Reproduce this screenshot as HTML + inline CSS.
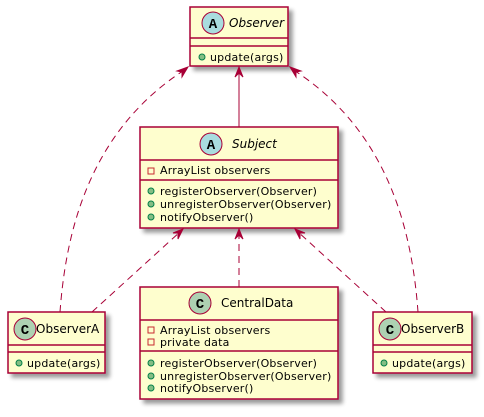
<!DOCTYPE html>
<html><head><style>
body{margin:0;background:#fff}
svg text{font-family:"DejaVu Sans","Liberation Sans",sans-serif;font-size:11px;fill:#000}
</style></head><body>
<svg width="484" height="412" viewBox="0 0 484 412" xmlns="http://www.w3.org/2000/svg">
<defs>
<filter id="sh" x="-10%" y="-10%" width="130%" height="130%"><feGaussianBlur in="SourceAlpha" stdDeviation="2"/><feOffset dx="4" dy="4"/><feComponentTransfer><feFuncA type="linear" slope="0.4"/></feComponentTransfer><feMerge><feMergeNode/><feMergeNode in="SourceGraphic"/></feMerge></filter>
</defs>
<g fill="#FEFECE" stroke="#A80036" stroke-width="1.5" filter="url(#sh)">
<rect x="190" y="7" width="98" height="59"/>
<rect x="140" y="127" width="198" height="101"/>
<rect x="8" y="312" width="97" height="61"/>
<rect x="140" y="287" width="198" height="112"/>
<rect x="373" y="312" width="99" height="61"/>
</g>
<g stroke="#A80036" stroke-width="1.5">
<line x1="190" y1="38" x2="288" y2="38"/><line x1="190" y1="46" x2="288" y2="46"/>
<line x1="140" y1="160" x2="338" y2="160"/><line x1="140" y1="180" x2="338" y2="180"/>
<line x1="8" y1="345" x2="105" y2="345"/><line x1="8" y1="352" x2="105" y2="352"/>
<line x1="140" y1="320" x2="338" y2="320"/><line x1="140" y1="351" x2="338" y2="351"/>
<line x1="373" y1="345" x2="472" y2="345"/><line x1="373" y1="352" x2="472" y2="352"/>
</g>
<g stroke="#A80036" fill="none" stroke-width="1">
<line x1="239" y1="68" x2="239" y2="127"/>
<g stroke-dasharray="7,5">
<path d="M60,312 C66,230 90,130 186,69"/>
<path d="M92,312 L181,231"/>
<path d="M239,287 L239,231"/>
<path d="M386,312 L297,231"/>
<path d="M418,312 C412,230 388,130 292,69"/>
</g>
</g>
<g fill="#A80036" stroke="#A80036">
<polygon points="239,67 235,77 239,73 243,77"/>
<polygon points="188,67 177,71 182,72 182,77"/>
<polygon points="183,229 173,233 178,233 178,239"/>
<polygon points="239,229 235,239 239,235 243,239"/>
<polygon points="295,229 300,239 300,233 305,233"/>
<polygon points="290,67 296,77 296,72 301,71"/>
</g>
<g stroke="#A80036" stroke-width="1">
<circle cx="213" cy="23" r="11" fill="#A9DCDF"/>
<circle cx="211" cy="144" r="11" fill="#A9DCDF"/>
<circle cx="25" cy="329" r="11" fill="#ADD1B2"/>
<circle cx="200" cy="303" r="11" fill="#ADD1B2"/>
<circle cx="390" cy="329" r="11" fill="#ADD1B2"/>
</g>
<g text-anchor="middle">
<text x="213" y="28" style="font-family:'Liberation Mono',monospace;font-weight:bold;font-size:14px">A</text>
<text x="211" y="149" style="font-family:'Liberation Mono',monospace;font-weight:bold;font-size:14px">A</text>
<text x="25" y="334" style="font-family:'Liberation Mono',monospace;font-weight:bold;font-size:14px">C</text>
<text x="200" y="308" style="font-family:'Liberation Mono',monospace;font-weight:bold;font-size:14px">C</text>
<text x="390" y="334" style="font-family:'Liberation Mono',monospace;font-weight:bold;font-size:14px">C</text>
</g>
<text x="229" y="27" style="font-style:italic;font-size:12px">Observer</text>
<text x="232" y="148" style="font-style:italic;font-size:12px">Subject</text>
<text x="36" y="333" style="font-size:12px">ObserverA</text>
<text x="221" y="307" style="font-size:12px">CentralData</text>
<text x="401" y="333" style="font-size:12px">ObserverB</text>
<g fill="#84BE84" stroke="#038048" stroke-width="1">
<circle cx="202" cy="57" r="3"/>
<circle cx="151" cy="191" r="3"/><circle cx="151" cy="204" r="3"/><circle cx="151" cy="217" r="3"/>
<circle cx="19" cy="363" r="3"/>
<circle cx="151" cy="363" r="3"/><circle cx="151" cy="376" r="3"/><circle cx="151" cy="388" r="3"/>
<circle cx="384" cy="363" r="3"/>
</g>
<g fill="none" stroke="#C82930" stroke-width="1">
<rect x="148" y="168" width="6" height="6"/>
<rect x="148" y="327" width="6" height="6"/><rect x="148" y="339" width="6" height="6"/>
</g>
<g style="font-size:11px;letter-spacing:0.2px">
<text x="210" y="61">update(args)</text>
<text x="160" y="174">ArrayList observers</text>
<text x="160" y="195">registerObserver(Observer)</text>
<text x="160" y="208">unregisterObserver(Observer)</text>
<text x="160" y="221">notifyObserver()</text>
<text x="27" y="367">update(args)</text>
<text x="160" y="334">ArrayList observers</text>
<text x="160" y="346">private data</text>
<text x="160" y="367">registerObserver(Observer)</text>
<text x="160" y="380">unregisterObserver(Observer)</text>
<text x="160" y="392">notifyObserver()</text>
<text x="392" y="367">update(args)</text>
</g>
</svg>
</body></html>
